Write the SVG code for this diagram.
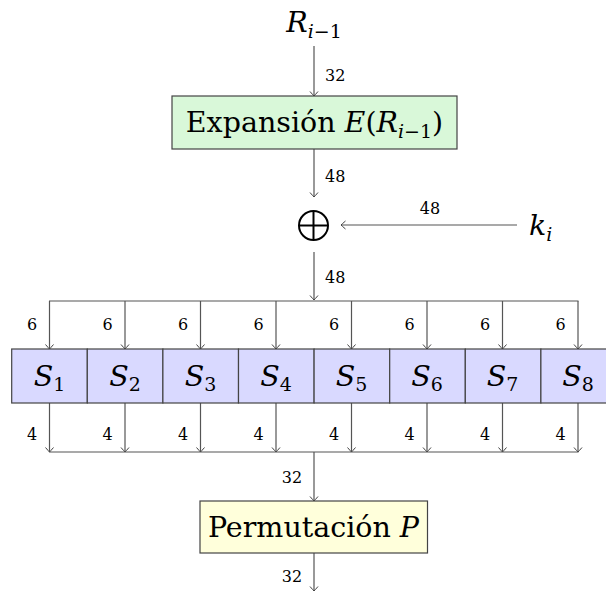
<svg xmlns="http://www.w3.org/2000/svg" width="606" height="592" viewBox="0 0 606 592">
<defs>
<marker id="ar" markerUnits="userSpaceOnUse" markerWidth="12" markerHeight="12" viewBox="-6 -6 12 12" refX="0" refY="0" orient="auto">
<path d="M -4.5 -4 Q -1 -1 0 0 Q -1 1 -4.5 4" fill="none" stroke="#444" stroke-width="1"/>
</marker>
<style>
.ln{stroke:#555;stroke-width:1.2;fill:none}
.arr{stroke:#555;stroke-width:1.2;fill:none;marker-end:url(#ar)}
.box{stroke:#444;stroke-width:1.2}
.t{font-size:28.5px;fill:#000}
.lb{font-size:16px;fill:#000}
.i{font-style:italic}
</style>
</defs>
<rect width="606" height="592" fill="#fff"/>
<g id="connectors" font-family="DejaVu Serif, Liberation Serif, serif">
<line class="arr" x1="314" y1="46" x2="314" y2="96"/>
<line class="arr" x1="314" y1="149" x2="314" y2="197"/>
<line class="arr" x1="517" y1="225" x2="341" y2="225"/>
<line class="arr" x1="314" y1="252" x2="314" y2="300"/>
<line class="ln" x1="49" y1="301" x2="578.5" y2="301"/>
<line class="arr" x1="49.5" y1="301" x2="49.5" y2="349"/>
<line class="arr" x1="125" y1="301" x2="125" y2="349"/>
<line class="arr" x1="200.5" y1="301" x2="200.5" y2="349"/>
<line class="arr" x1="276" y1="301" x2="276" y2="349"/>
<line class="arr" x1="351.5" y1="301" x2="351.5" y2="349"/>
<line class="arr" x1="427" y1="301" x2="427" y2="349"/>
<line class="arr" x1="502.5" y1="301" x2="502.5" y2="349"/>
<line class="arr" x1="578" y1="301" x2="578" y2="349"/>
<line class="arr" x1="49.5" y1="403" x2="49.5" y2="452"/>
<line class="arr" x1="125" y1="403" x2="125" y2="452"/>
<line class="arr" x1="200.5" y1="403" x2="200.5" y2="452"/>
<line class="arr" x1="276" y1="403" x2="276" y2="452"/>
<line class="arr" x1="351.5" y1="403" x2="351.5" y2="452"/>
<line class="arr" x1="427" y1="403" x2="427" y2="452"/>
<line class="arr" x1="502.5" y1="403" x2="502.5" y2="452"/>
<line class="arr" x1="578" y1="403" x2="578" y2="452"/>
<line class="ln" x1="49" y1="452" x2="578.5" y2="452"/>
<line class="arr" x1="314" y1="452" x2="314" y2="501"/>
<line class="arr" x1="314" y1="553" x2="314" y2="591"/>
<text class="lb" x="325" y="81">32</text>
<text class="lb" x="325" y="182">48</text>
<text class="lb" x="430" y="214" text-anchor="middle">48</text>
<text class="lb" x="325" y="283">48</text>
<text class="lb" x="32" y="330" text-anchor="middle">6</text>
<text class="lb" x="107.5" y="330" text-anchor="middle">6</text>
<text class="lb" x="183" y="330" text-anchor="middle">6</text>
<text class="lb" x="258.5" y="330" text-anchor="middle">6</text>
<text class="lb" x="334" y="330" text-anchor="middle">6</text>
<text class="lb" x="409.5" y="330" text-anchor="middle">6</text>
<text class="lb" x="485" y="330" text-anchor="middle">6</text>
<text class="lb" x="560.5" y="330" text-anchor="middle">6</text>
<text class="lb" x="32" y="440" text-anchor="middle">4</text>
<text class="lb" x="107.5" y="440" text-anchor="middle">4</text>
<text class="lb" x="183" y="440" text-anchor="middle">4</text>
<text class="lb" x="258.5" y="440" text-anchor="middle">4</text>
<text class="lb" x="334" y="440" text-anchor="middle">4</text>
<text class="lb" x="409.5" y="440" text-anchor="middle">4</text>
<text class="lb" x="485" y="440" text-anchor="middle">4</text>
<text class="lb" x="560.5" y="440" text-anchor="middle">4</text>
<text class="lb" x="292" y="483" text-anchor="middle">32</text>
<text class="lb" x="292" y="582" text-anchor="middle">32</text>
</g>
<g id="input" font-family="DejaVu Serif, Liberation Serif, serif">
<text class="t" x="314" y="32" text-anchor="middle"><tspan class="i">R</tspan><tspan font-size="19" dy="6"><tspan class="i">i</tspan>−1</tspan></text>
</g>
<g id="expansion" font-family="DejaVu Serif, Liberation Serif, serif">
<rect class="box" x="172" y="96" width="285" height="53" fill="#d9f8d9"/>
<text class="t" x="314.5" y="132" text-anchor="middle">Expansión <tspan class="i">E</tspan>(<tspan class="i">R</tspan><tspan font-size="19" dy="6"><tspan class="i">i</tspan>−1</tspan><tspan dy="-6">)</tspan></text>
</g>
<g id="xor">
<circle cx="313.5" cy="225.5" r="14.5" fill="none" stroke="#000" stroke-width="2"/>
<line x1="299" y1="225.5" x2="328" y2="225.5" stroke="#000" stroke-width="2"/>
<line x1="313.5" y1="211" x2="313.5" y2="240" stroke="#000" stroke-width="2"/>
</g>
<g id="key" font-family="DejaVu Serif, Liberation Serif, serif">
<text class="t" x="529" y="235"><tspan class="i">k</tspan><tspan class="i" font-size="19" dy="6">i</tspan></text>
</g>
<g id="sboxes" font-family="DejaVu Serif, Liberation Serif, serif">
<rect class="box" x="11.7" y="349" width="75.6" height="54" fill="#d9d9ff"/>
<rect class="box" x="87.3" y="349" width="75.6" height="54" fill="#d9d9ff"/>
<rect class="box" x="162.9" y="349" width="75.6" height="54" fill="#d9d9ff"/>
<rect class="box" x="238.5" y="349" width="75.6" height="54" fill="#d9d9ff"/>
<rect class="box" x="314.1" y="349" width="75.6" height="54" fill="#d9d9ff"/>
<rect class="box" x="389.7" y="349" width="75.6" height="54" fill="#d9d9ff"/>
<rect class="box" x="465.3" y="349" width="75.6" height="54" fill="#d9d9ff"/>
<rect class="box" x="540.9" y="349" width="75.6" height="54" fill="#d9d9ff"/>
<text class="t" x="49.5" y="386" text-anchor="middle"><tspan class="i">S</tspan><tspan font-size="19" dy="5">1</tspan></text>
<text class="t" x="125" y="386" text-anchor="middle"><tspan class="i">S</tspan><tspan font-size="19" dy="5">2</tspan></text>
<text class="t" x="200.5" y="386" text-anchor="middle"><tspan class="i">S</tspan><tspan font-size="19" dy="5">3</tspan></text>
<text class="t" x="276" y="386" text-anchor="middle"><tspan class="i">S</tspan><tspan font-size="19" dy="5">4</tspan></text>
<text class="t" x="351.5" y="386" text-anchor="middle"><tspan class="i">S</tspan><tspan font-size="19" dy="5">5</tspan></text>
<text class="t" x="427" y="386" text-anchor="middle"><tspan class="i">S</tspan><tspan font-size="19" dy="5">6</tspan></text>
<text class="t" x="502.5" y="386" text-anchor="middle"><tspan class="i">S</tspan><tspan font-size="19" dy="5">7</tspan></text>
<text class="t" x="578" y="386" text-anchor="middle"><tspan class="i">S</tspan><tspan font-size="19" dy="5">8</tspan></text>
</g>
<g id="permutation" font-family="DejaVu Serif, Liberation Serif, serif">
<rect class="box" x="200" y="501" width="227.5" height="52" fill="#ffffdb"/>
<text class="t" x="313.5" y="537" text-anchor="middle">Permutación <tspan class="i">P</tspan></text>
</g>
</svg>
